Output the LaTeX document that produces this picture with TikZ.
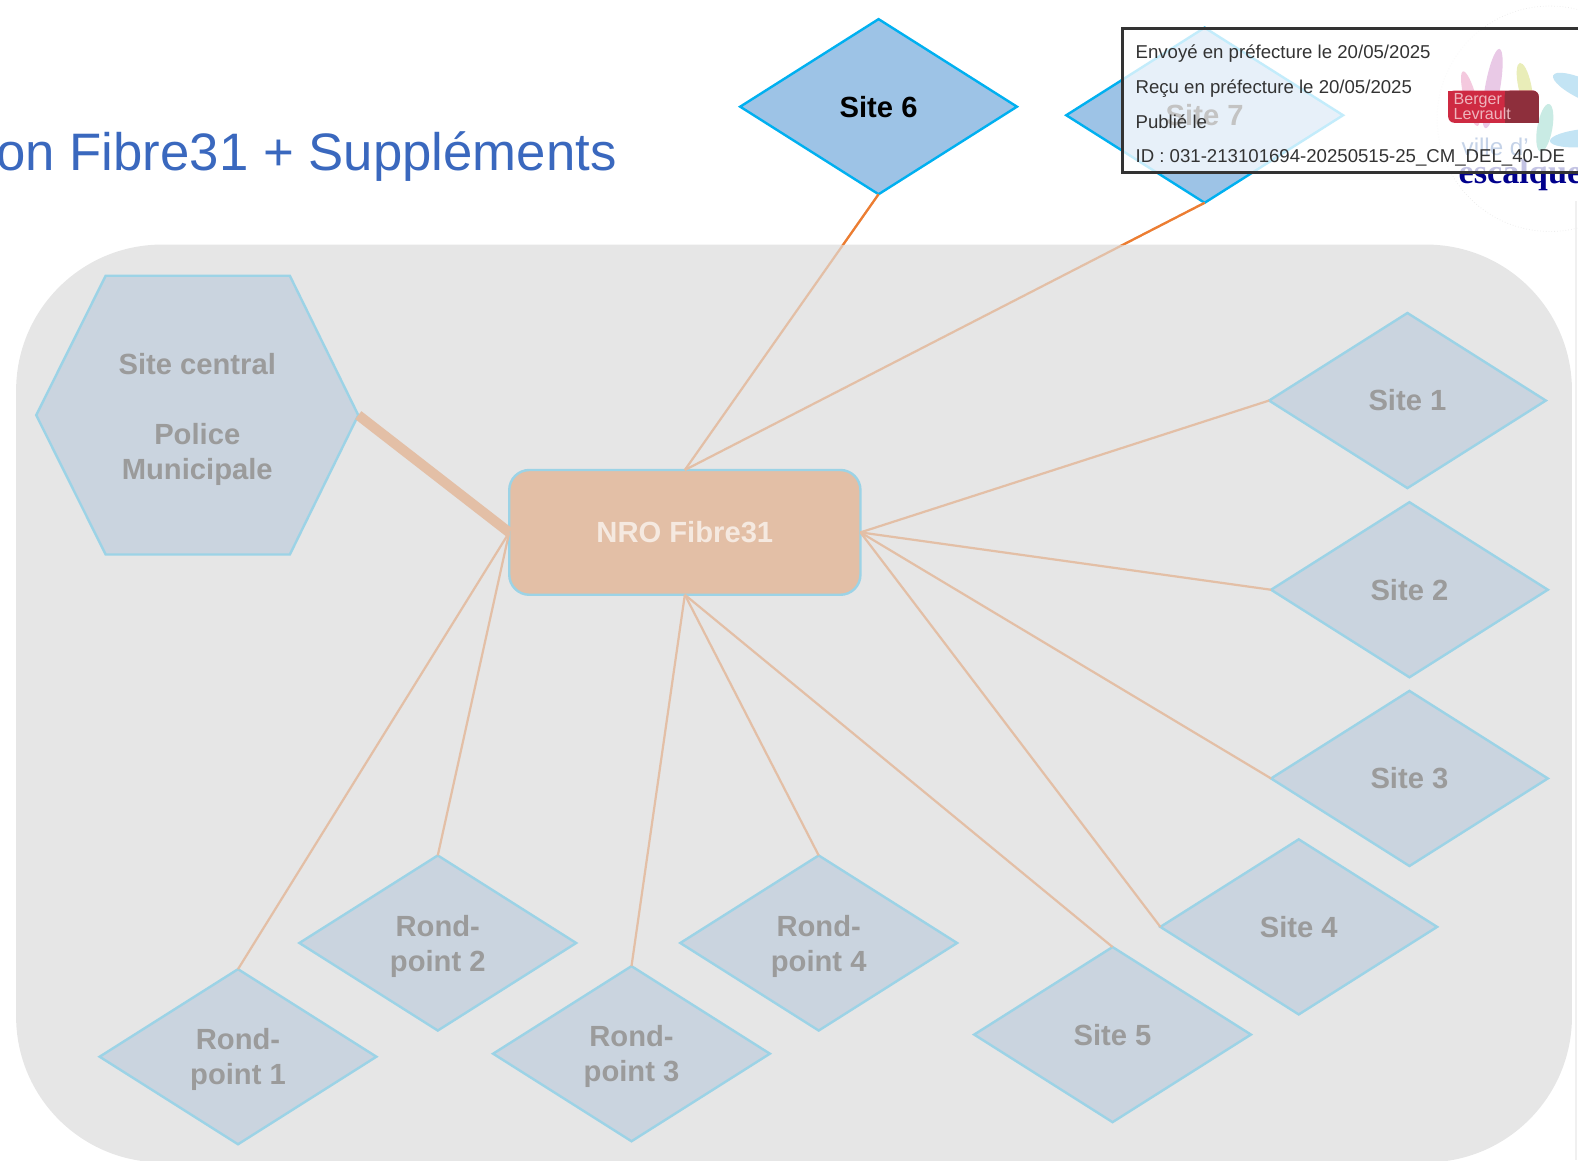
\documentclass[tikz,border=0pt]{standalone}
\usepackage{fontspec}
\setmainfont{Liberation Sans}
\newfontfamily\logoserif{Liberation Serif}
\usetikzlibrary{shapes.geometric}
\definecolor{panelgrey}{HTML}{E6E6E6}
\definecolor{palefill}{HTML}{CAD4DF}
\definecolor{palestroke}{HTML}{9CD3E6}
\definecolor{paletext}{HTML}{9B9B9B}
\definecolor{paleline}{HTML}{E3BFA6}
\definecolor{linkorange}{HTML}{ED7D31}
\definecolor{sitefill}{HTML}{9DC3E6}
\definecolor{sitestroke}{HTML}{00B0F0}
\definecolor{titleblue}{HTML}{3A68BE}
\definecolor{stampdark}{HTML}{333333}
\definecolor{badgered}{HTML}{CE2A42}
\definecolor{badgedark}{HTML}{8E2F3C}
\definecolor{petalpink}{HTML}{E9C9E6}
\definecolor{petalrose}{HTML}{F4C9DE}
\definecolor{petalyellow}{HTML}{E9EDB8}
\definecolor{petalteal}{HTML}{C9EBE4}
\definecolor{petalblue}{HTML}{C3E4F4}
\definecolor{villeblue}{HTML}{C5D3E8}
\tikzset{
  x=0.5pt,y=-0.5pt,
  boldlabel/.style={font=\fontsize{14.5}{17.4}\selectfont\bfseries,align=center},
  sitebase/.style={diamond,aspect=1.57,minimum width=137.5pt,minimum height=87pt,inner sep=0pt,outer sep=0pt,
    boldlabel,line width=1.2pt},
  palesite/.style={sitebase,draw=palestroke,fill=palefill,text=paletext},
  brightsite/.style={sitebase,draw=sitestroke,fill=sitefill,text=black},
  palelabel/.style={boldlabel,inner sep=0pt,text=paletext},
  hubbox/.style={rectangle,rounded corners=10pt,minimum width=174.5pt,minimum height=62pt,inner sep=0pt,outer sep=0pt,
    draw=palestroke,fill=paleline,line width=1.2pt,text=white!65!paleline,boldlabel},
  paleconn/.style={draw=paleline,line width=1.1pt},
  orangeconn/.style={draw=linkorange,line width=1.1pt},
  stamptext/.style={anchor=west,inner sep=0pt,text=stampdark,font=\fontsize{9.25}{11}\selectfont},
  petal/.style={ellipse,inner sep=0pt,outer sep=0pt},
}
\begin{document}
\begin{tikzpicture}
\useasboundingbox (0,0) rectangle (1568,1153);
\path[fill=panelgrey,rounded corners=72.5pt] (16,243) rectangle (1562,1155);
\draw[white!94!black,line width=1pt] (1566,200) -- (1566,1153);
\node[anchor=base east,inner sep=0pt,text=titleblue,font=\fontsize{26.2}{30}\selectfont] (title) at (613,169) {on Fibre31 + Suppléments};

% logo lettering partly covered by the stamp
\draw[white!93!black,line width=.4pt,densely dotted] (1540,118) circle (112);
\node[anchor=base west,inner sep=0pt,text=blue!55!black,font=\fontsize{17}{18}\logoserif\bfseries] (escal) at (1449,182) {escalque};

% nodes
\coordinate (hexE) at (356,412.5);
\draw[draw=palestroke,fill=palefill,line width=1.2pt,line join=miter]
  (36,412.5) -- (105,274) -- (288,274) -- (hexE) -- (288,551) -- (105,551) -- cycle;
\node[palelabel] (central) at (196,416.5) {Site central\\~\\Police\\Municipale};
\node[hubbox] (nro) at (680.5,529) {NRO Fibre31};
\node[brightsite] (s6) at (873,106) {Site 6};
\node[brightsite] (s7) at (1197,114.5) {Site 7};
\node[palesite] (s1) at (1398.5,398) {Site 1};
\node[palesite] (s2) at (1400.5,586) {Site 2};
\node[palesite] (s3) at (1400.5,773.5) {Site 3};
\node[palesite] (s4) at (1290.5,921) {Site 4};
\node[palesite] (s5) at (1105.5,1028) {Site 5};
\node[palesite] (r1) at (236.5,1050) {};
\node[palesite] (r2) at (435,937) {};
\node[palesite] (r3) at (627.5,1047) {};
\node[palesite] (r4) at (813.5,937) {};
\node[palelabel] (r1t) at ([yshift=-1.5pt]r1.center) {Rond-\\point 1};
\node[palelabel] (r2t) at ([yshift=-1.5pt]r2.center) {Rond-\\point 2};
\node[palelabel] (r3t) at ([yshift=-1.5pt]r3.center) {Rond-\\point 3};
\node[palelabel] (r4t) at ([yshift=-1.5pt]r4.center) {Rond-\\point 4};

% connectors
\draw[paleconn,line width=5pt] (hexE) -- (nro.west);
\foreach \a/\b in {s1.west/nro.east,s2.west/nro.east,s3.west/nro.east,s4.west/nro.east,
  s5.north/nro.south,r4.north/nro.south,r3.north/nro.south,r2.north/nro.west,r1.north/nro.west,
  s6.south/nro.north,s7.south/nro.north}
  \draw[paleconn] (\a) -- (\b);
\begin{scope}
  \clip (0,0) rectangle (1568,243);
  \draw[orangeconn] (s6.south) -- (nro.north);
  \draw[orangeconn] (s7.south) -- (nro.north);
\end{scope}

% stamp
\path[fill=white,fill opacity=.765,draw=none] (1115,28) rectangle (1590,171);
% logo petals seen through the stamp
\node[petal,fill=petalpink,minimum width=7.5pt,minimum height=40pt,rotate=-10] (petalA) at (1483,88) {};
\node[petal,fill=petalrose,minimum width=6pt,minimum height=28pt,rotate=15] (petalB) at (1461,98) {};
\node[petal,fill=petalyellow,minimum width=6.5pt,minimum height=23pt,rotate=12] (petalC) at (1515,85) {};
\node[petal,fill=petalteal,minimum width=7.5pt,minimum height=24pt,rotate=-10] (petalD) at (1535,127) {};
\node[petal,fill=petalblue,minimum width=36pt,minimum height=10pt,rotate=-25] (petalE) at (1576,90) {};
\node[petal,fill=petalblue,minimum width=36pt,minimum height=9pt,rotate=5] (petalF) at (1576,137) {};
\node[anchor=base west,inner sep=0pt,text=villeblue,font=\fontsize{12}{14}\selectfont] (ville) at (1452,155) {ville d'};
\draw[stampdark,line width=1.5pt] (1115,28) rectangle (1590,171);
\node[stamptext] (st1) at (1128,53) {Envoyé en préfecture le 20/05/2025};
\node[stamptext] (st2) at (1128,88) {Reçu en préfecture le 20/05/2025};
\node[stamptext] (st3) at (1128,120.5) {Publié le};
\node[stamptext] (st4) at (1128,156.5) {ID : 031-213101694-20250515-25\_CM\_DEL\_40-DE};
\fill[badgered,rounded corners=3pt] (1439,90) rectangle (1529,122);
\fill[badgered] (1439,90) rectangle (1450,100);
\fill[badgedark,rounded corners=3pt] (1495,90) rectangle (1529,122);
\fill[badgedark] (1495,90) rectangle (1505,122);
\fill[badgedark] (1515,112) rectangle (1529,122);
\node[anchor=west,inner sep=0pt,align=left,text=white!65!badgered,font=\fontsize{8}{7.5}\selectfont] (bl) at (1444,106) {Berger\\Levrault};
\end{tikzpicture}
\end{document}
